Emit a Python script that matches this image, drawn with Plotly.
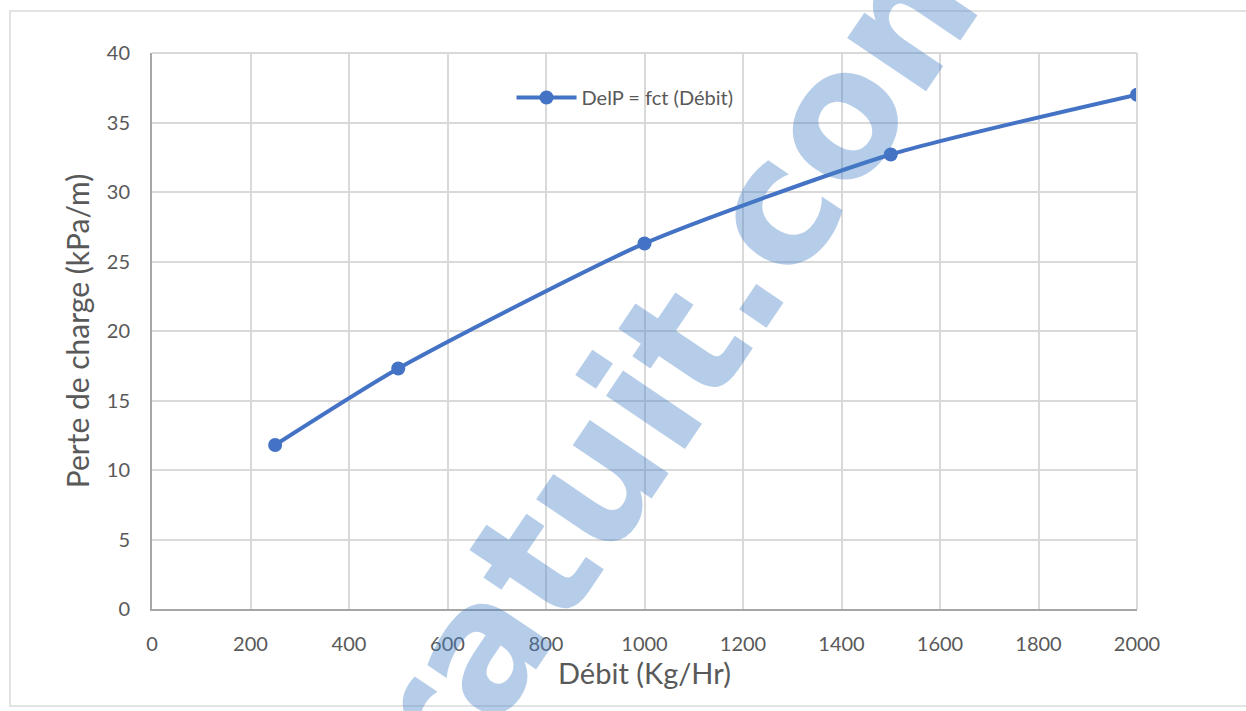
import plotly.graph_objects as go

# Débit (kg/h) et perte de charge (kPa/m)
debit = [250, 500, 1000, 1500, 2000]
perte_charge = [11.8, 17.3, 26.3, 32.7, 37.0]
serie_nom = "DelP = fct (Débit)"

x_ticks = list(range(0, 2001, 200))
y_ticks = list(range(0, 41, 5))

BLUE = "#4472C4"
GRID = "#d9d9d9"
TXT = "#595959"
FONT = "Lato, 'Open Sans', sans-serif"

fig = go.Figure()
fig.add_trace(go.Scatter(
    x=debit, y=perte_charge, name=serie_nom,
    mode="lines+markers",
    line=dict(color=BLUE, width=4, shape="spline", smoothing=0.6),
    marker=dict(color=BLUE, size=14),
))

fig.update_layout(
    width=1246, height=711,
    margin=dict(l=152, r=109, t=53, b=102),
    paper_bgcolor="white", plot_bgcolor="white",
    font=dict(family=FONT, color=TXT, size=20),
    showlegend=True,
    legend=dict(
        x=0.365, y=0.92, xanchor="left", yanchor="middle",
        bgcolor="rgba(0,0,0,0)", font=dict(size=20, color=TXT),
        itemwidth=60,
    ),
    xaxis=dict(
        range=[0, 2000], tickvals=x_ticks, showgrid=True,
        gridcolor=GRID, gridwidth=2,
        showline=True, linecolor="#a6a6a6", linewidth=2,
        zeroline=False, ticks="outside", ticklen=16,
        tickcolor="rgba(0,0,0,0)",
        title=dict(text="Débit (Kg/Hr)", font=dict(size=29, color=TXT), standoff=10),
    ),
    yaxis=dict(
        range=[0, 40], tickvals=y_ticks, showgrid=True,
        gridcolor=GRID, gridwidth=2,
        showline=True, linecolor="#a6a6a6", linewidth=2,
        zeroline=False, ticks="outside", ticklen=16,
        tickcolor="rgba(0,0,0,0)",
        title=dict(text="Perte de charge (kPa/m)", font=dict(size=30, color=TXT), standoff=8),
    ),
    shapes=[
        # upper and right boundary of the plot area
        dict(type="line", xref="paper", yref="paper", x0=0, x1=1, y0=1, y1=1,
             line=dict(color=GRID, width=2)),
        dict(type="line", xref="paper", yref="paper", x0=1, x1=1, y0=0, y1=1,
             line=dict(color=GRID, width=2)),
        # chart frame
        dict(type="rect", xref="paper", yref="paper",
             x0=-0.1442, x1=1.12, y0=-0.1745, y1=1.0755,
             line=dict(color="#e3e3e3", width=2), layer="below"),
    ],
    annotations=[
        dict(text="<b>Gratuit.com</b>", xref="paper", yref="paper",
             x=0.4985, y=0.372, showarrow=False, textangle=-56,
             font=dict(family="DejaVu Sans, Liberation Sans, Arial", size=174,
                       color="rgba(70,130,200,0.4)")),
    ],
)

fig.write_html("out.html")
